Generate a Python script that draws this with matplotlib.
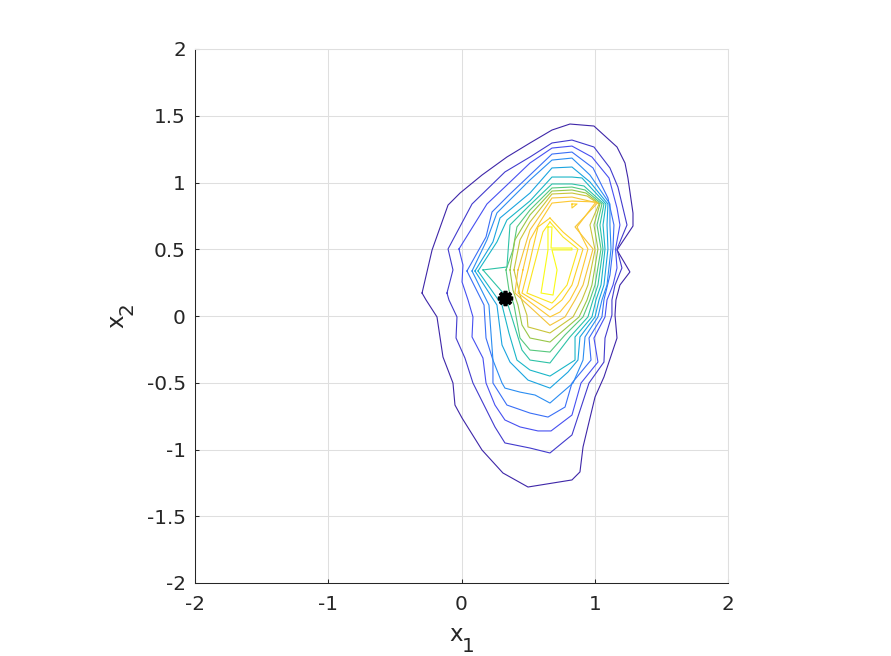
import matplotlib
matplotlib.use('Agg')
import matplotlib.pyplot as plt
from matplotlib.colors import LinearSegmentedColormap

# contour lines, outermost level first (x1 values, x2 values)
c1_x = [-.296, -.221, -.101, -.011, .154, .341, .514, .679, .814, .994, 1.167, 1.227, 1.249, 1.287, 1.287, 1.167, 1.264, 1.189, 1.159, 1.152, 1.167, 1.069, 1.002, .912, .889, .829, .499, .311, .154, .004, -.049, -.064, -.139, -.184, -.266]
c1_y = [.172, .494, .831, .921, 1.056, 1.191, 1.296, 1.393, 1.438, 1.423, 1.266, 1.146, 1.034, .771, .674, .494, .330, .232, .120, .007, -.165, -.457, -.607, -.981, -1.168, -1.228, -1.281, -1.176, -1.004, -.764, -.667, -.502, -.307, -.007, .120]
c2_x = [-.109, -.064, -.101, .079, .326, .514, .679, .829, .994, 1.114, 1.174, 1.242, 1.167, 1.204, 1.152, 1.129, 1.129, 1.077, 1.069, .957, .829, .664, .514, .326, .251, .086, .026, -.041, -.034, -.094]
c2_y = [.172, .345, .502, .839, 1.079, 1.191, 1.296, 1.318, 1.266, 1.109, .966, .682, .502, .360, .232, .120, .007, -.165, -.345, -.502, -.891, -1.026, -.989, -.951, -.831, -.502, -.315, -.165, -.007, .120]
c3_x = [-.019, .191, .341, .514, .679, .829, .979, 1.107, 1.167, 1.189, 1.156, 1.167, 1.137, 1.092, 1.077, .994, 1.024, .897, .829, .672, .574, .439, .326, .251, .184, .161, .079, .086, .049, .004, .011]
c3_y = [.502, .839, .981, 1.146, 1.258, 1.273, 1.191, 1.034, .809, .682, .502, .360, .232, .120, -.007, -.165, -.345, -.502, -.742, -.861, -.861, -.831, -.779, -.667, -.502, -.315, -.157, -.007, .120, .255, .382]
c4_x = [.041, .184, .229, .364, .514, .679, .829, .987, 1.099, 1.144, 1.137, 1.114, 1.069, 1.054, .957, .972, .829, .777, .649, .514, .341, .236, .236, .184, .169]
c4_y = [.337, .592, .779, .914, 1.056, 1.213, 1.228, 1.109, .884, .682, .509, .307, .120, -.007, -.165, -.330, -.502, -.682, -.757, -.727, -.667, -.502, -.330, -.165, .082]
c5_x = [.079, .191, .266, .341, .514, .679, .829, .964, 1.114, 1.114, 1.122, 1.092, 1.054, 1.024, .927, .912, .837, .664, .552, .439, .326, .304, .236, .206]
c5_y = [.337, .570, .772, .847, 1.019, 1.168, 1.183, 1.056, .839, .682, .502, .232, .120, -.007, -.157, -.330, -.502, -.652, -.592, -.570, -.540, -.502, -.330, .082]
c6_x = [.101, .236, .289, .514, .679, .829, .964, 1.099, 1.092, 1.099, 1.069, 1.032, 1.002, .889, .874, .799, .664, .499, .364, .304, .266]
c6_y = [.337, .555, .734, .921, 1.109, 1.116, 1.004, .839, .682, .502, .232, .120, -.007, -.157, -.330, -.420, -.540, -.480, -.345, -.217, .082]
c7_x = [.124, .266, .341, .514, .679, .829, .904, 1.084, 1.062, 1.077, 1.047, 1.009, .979, .852, .852, .664, .514, .416, .356, .304]
c7_y = [.337, .555, .719, .862, 1.041, 1.041, 1.034, .839, .682, .502, .232, .120, -.007, -.157, -.330, -.450, -.405, -.330, -.127, .082]
c8_x = [.161, .341, .364, .514, .679, .829, .919, 1.069, 1.039, 1.062, 1.024, .987, .949, .814, .664, .514, .454, .349, .326]
c8_y = [.345, .367, .682, .832, .989, .989, .974, .839, .682, .502, .232, .120, -.007, -.157, -.352, -.330, -.255, .082, .157]
c9_x = [.334, .386, .416, .514, .679, .829, .927, 1.054, 1.017, 1.047, 1.002, .964, .912, .777, .664, .514, .439, .394, .356]
c9_y = [.345, .495, .667, .794, .959, .966, .944, .839, .682, .502, .232, .120, -.007, -.142, -.270, -.255, -.165, .082, .195]
c10_x = [.364, .401, .454, .514, .679, .829, .934, 1.039, .994, 1.024, .979, .942, .882, .664, .514, .454, .424, .386]
c10_y = [.345, .570, .659, .757, .936, .944, .921, .839, .682, .502, .232, .120, -.007, -.195, -.165, -.067, .082, .195]
c11_x = [.394, .439, .514, .679, .829, .942, 1.032, .964, 1.002, .949, .904, .837, .664, .499, .491, .439]
c11_y = [.345, .570, .704, .914, .921, .899, .839, .682, .495, .232, .120, -.007, -.127, -.082, .007, .157]
c12_x = [.424, .491, .514, .679, .829, 1.021, .852, .987, .912, .852, .777, .664, .401]
c12_y = [.345, .570, .644, .884, .891, .847, .667, .502, .232, .120, -.007, -.070, .172]
c13_x = [.461, .514, .589, .679, .829, 1.009, .867, .949, .874, .814, .739, .664, .424]
c13_y = [.345, .570, .704, .846, .861, .854, .667, .502, .232, .120, .030, -.007, .172]
c14_x = [.664, .574, .536, .499, .454, .664, .754, .829, .912, .762]
c14_y = [.734, .667, .509, .345, .172, .045, .120, .232, .502, .629]
c14b_x = [.829, .867, .829]
c14b_y = [.839, .839, .809]
c15_x = [.664, .762, .874, .792, .702, .679, .491, .536, .611]
c15_y = [.704, .592, .502, .232, .120, .097, .172, .345, .629]
c16_x = [.649, .679, .672, .829, .829, .679, .717, .687, .597, .649]
c16_y = [.667, .667, .509, .509, .495, .495, .345, .157, .172, .495]

levels = [(c1_x, c1_y, 0), (c2_x, c2_y, 1), (c3_x, c3_y, 2), (c4_x, c4_y, 3),
          (c5_x, c5_y, 4), (c6_x, c6_y, 5), (c7_x, c7_y, 6), (c8_x, c8_y, 7),
          (c9_x, c9_y, 8), (c10_x, c10_y, 9), (c11_x, c11_y, 10), (c12_x, c12_y, 11),
          (c13_x, c13_y, 12), (c14_x, c14_y, 13), (c14b_x, c14b_y, 13),
          (c15_x, c15_y, 14), (c16_x, c16_y, 15)]

start_x = [0.33]
start_y = [0.135]

x_ticks = [-2, -1, 0, 1, 2]
x_labels = ['-2', '-1', '0', '1', '2']
y_ticks = [-2, -1.5, -1, -0.5, 0, 0.5, 1, 1.5, 2]
y_labels = ['-2', '-1.5', '-1', '-0.5', '0', '0.5', '1', '1.5', '2']

# old matlab parula
parula = LinearSegmentedColormap.from_list('parula', [
    (0.00, (0.2422, 0.1504, 0.6603)), (0.14, (0.2810, 0.3228, 0.9579)),
    (0.25, (0.1786, 0.5289, 0.9682)), (0.37, (0.0689, 0.6948, 0.8394)),
    (0.50, (0.2161, 0.7843, 0.5923)), (0.62, (0.6720, 0.7793, 0.2227)),
    (0.75, (0.9970, 0.7659, 0.2199)), (0.87, (0.9892, 0.8136, 0.1500)),
    (1.00, (0.9769, 0.9839, 0.0805))])

fig = plt.figure(figsize=(8.91, 6.56), dpi=100)
ax = fig.add_axes([195 / 891, (656 - 583) / 656, 533 / 891, 534 / 656])

for xs, ys, lev in levels:
    ax.plot(xs + xs[:1], ys + ys[:1], color=parula(lev / 15), lw=0.8)

ax.plot(start_x, start_y, linestyle='none', marker=(8, 2, 0), ms=11, mew=2.6, color='black', zorder=5)
ax.plot(start_x, start_y, linestyle='none', marker='o', ms=8, color='black', zorder=5)

ax.set_xlim(-2, 2)
ax.set_ylim(-2, 2)
ax.set_xticks(x_ticks)
ax.set_xticklabels(x_labels)
ax.set_yticks(y_ticks)
ax.set_yticklabels(y_labels)
ax.grid(True, color='#dfdfdf', lw=0.75)
ax.set_axisbelow(True)
ax.tick_params(direction='in', length=3, width=0.75, color='#262626', labelcolor='#262626', labelsize=14.4)
ax.tick_params(axis='x', pad=8.5)
ax.tick_params(axis='y', pad=6.5)
for side in ['top', 'right']:
    ax.spines[side].set_color('#dfdfdf')
    ax.spines[side].set_linewidth(0.75)
for side in ['left', 'bottom']:
    ax.spines[side].set_color('#262626')
    ax.spines[side].set_linewidth(0.75)

# axis names, the subscript is nearly as large as the letter
fig.text(449 / 891, 1 - 641 / 656, 'x', fontsize=16.5, color='#262626')
fig.text(462 / 891, 1 - 652 / 656, '1', fontsize=14.4, color='#262626')
fig.text(123 / 891, 1 - 328 / 656, 'x', fontsize=16.5, color='#262626', rotation=90, rotation_mode='anchor')
fig.text(133 / 891, 1 - 315 / 656, '2', fontsize=14.4, color='#262626', rotation=90, rotation_mode='anchor')

fig.savefig('out.png', dpi=100)
